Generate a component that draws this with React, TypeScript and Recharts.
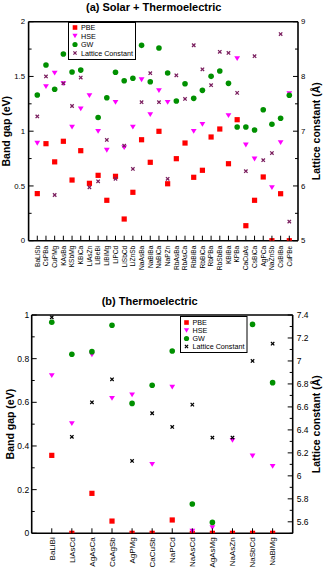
import React from 'react';
import { ScatterChart, Scatter, XAxis, YAxis, Legend } from 'recharts';

const FONT = '"Liberation Sans", Arial, Helvetica, sans-serif';

const PBE_COLOR = '#ff0000';
const HSE_COLOR = '#ff00ff';
const GW_COLOR = '#009000';
const LAT_A_COLOR = '#7a1e5e';
const LAT_B_COLOR = '#000000';

const seriesNames = ['PBE', 'HSE', 'GW', 'Lattice Constant'];

// ---------- (a) Solar + Thermoelectric ----------
const titleA = '(a) Solar + Thermoelectric';
const catsA = ['BaLiSb', 'CsPBa', 'CuPMg', 'KAsBa', 'KSbMg', 'KBiCa', 'LiAsZn', 'LiBeBi', 'LiBiMg', 'LiPCd',
  'LiSbCd', 'LiZnSb', 'NaAsBa', 'NaBiBa', 'NaBiCa', 'NaPZn', 'RbAsBa', 'RbAsCa', 'RbBiBa', 'RbBiCa',
  'RbPBa', 'RbSbBa', 'KBiBa', 'KPBa', 'CaCuAs', 'CsBiCa', 'AgPCa', 'NaZnSb', 'CsBiBa', 'CuPBe'];
const pbeA = [0.43, 0.886, 0.72, 0.908, 0.554, 0.822, 0.524, 0.597, 0.369, 0.588,
  0.198, 0.442, 0.922, 0.716, 0.999, 0.52, 0.749, 0.892, 0.579, 0.643,
  0.947, 1.02, 0.703, 1.105, 0.137, 0.369, 0.582, 0, 0.429, 0];
const hseA: (number | null)[] = [0.89, 1.407, 1.53, 1.434, 1.038, 1.203, 1.324, 0.999, 0.826, 1.264,
  0.85, 1.038, 1.47, 1.151, 1.37, 1.264, null, null, 0.999, 1.063,
  null, null, 1.142, 1.662, 0.874, 0.746, null, 0.484, 0.895, 1.343];
const gwA = [1.33, 1.605, 1.383, 1.705, 1.54, 1.558, 1.85, 1.125, 1.306, 1.538,
  1.461, 1.483, 1.784, 1.452, 1.76, 1.532, 1.276, 1.434, 1.3, 1.373,
  1.501, 1.55, 1.437, 1.038, 1.038, 1.011, 1.196, 1.063, 1.118, 1.328];
const latA = [7.27, 8.0, 5.835, 7.875, 7.46, 7.98, 5.975, 6.085, 6.84, 6.13,
  6.735, 6.31, 7.53, 8.06, 7.53, 6.13, 8.02, 7.59, 8.57, 8.13,
  7.84, 8.45, 8.43, 7.7, 6.27, 8.37, 6.47, 6.6, 8.775, 5.35];
const bandMajorA = [0, 0.5, 1, 1.5, 2];
const bandMinorA = [0.25, 0.75, 1.25, 1.75];
const latMajorA = [5, 6, 7, 8, 9];
const latMinorA = [5.5, 6.5, 7.5, 8.5];

// ---------- (b) Thermoelectric ----------
const titleB = '(b) Thermoelectric';
const catsB = ['BaLiBi', 'LiAsCd', 'AgAsCa', 'CaAgSb', 'AgPMg', 'CaCuSb', 'NaPCd', 'NaAsCd', 'AgAsMg', 'NaAsZn', 'NaSbCd', 'NaBiMg'];
const pbeB = [0.357, 0, 0.183, 0.056, 0, 0, 0.061, 0, 0, 0, 0, 0];
const hseB = [0.722, 0.502, 0.817, 0.618, 0.634, 0.316, 0.67, 0.01, 0.026, 0.426, 0.354, 0.307];
const gwB = [0.967, 0.82, 0.832, 0.953, 0.595, 0.678, 0.835, 0.134, 0.05, 0.9, 0.957, 0.69];
const latB = [7.38, 6.34, 6.64, 6.84, 6.13, 6.545, 6.426, 6.62, 6.333, 6.333, 7.0, 7.15];
const bandMajorB = [0, 0.2, 0.4, 0.6, 0.8, 1];
const bandMinorB = [0.1, 0.3, 0.5, 0.7, 0.9];
const latMajorB = [5.6, 5.8, 6, 6.2, 6.4, 6.6, 6.8, 7, 7.2, 7.4];
const latMinorB = [5.5, 5.7, 5.9, 6.1, 6.3, 6.5, 6.7, 6.9, 7.1, 7.3];

const axisLabelBand = 'Band gap (eV)';
const axisLabelLat = 'Lattice constant (Å)';

const toPts = (vals: (number | null)[]) =>
  vals.map((v, i) => (v === null ? null : { x: i + 1, y: v })).filter((p) => p !== null) as { x: number; y: number }[];

// ---------- marker shapes ----------
const square = (cx: number, cy: number, c: string, s = 5.2) => (
  <rect x={cx - s / 2} y={cy - s / 2} width={s} height={s} fill={c} />
);
const tri = (cx: number, cy: number, c: string, w = 5.8, h = 4.8) => (
  <polygon points={`${cx - w / 2},${cy - h / 2} ${cx + w / 2},${cy - h / 2} ${cx},${cy + h / 2}`} fill={c} />
);
const circ = (cx: number, cy: number, c: string, r = 2.8) => <circle cx={cx} cy={cy} r={r} fill={c} />;
const cross = (cx: number, cy: number, c: string, a = 1.7, sw = 1.25) => (
  <g stroke={c} strokeWidth={sw}>
    <line x1={cx - a} y1={cy - a} x2={cx + a} y2={cy + a} />
    <line x1={cx - a} y1={cy + a} x2={cx + a} y2={cy - a} />
  </g>
);

// ---------- ticks ----------
const isIn = (arr: number[], v: number) => arr.some((m) => Math.abs(m - v) < 1e-6);

const makeYTick = (majors: number[], side: 'left' | 'right', fontSize: number, gap: number) => (props: any) => {
  const { x, y, payload } = props;
  const v = payload.value;
  const major = isIn(majors, v);
  const len = major ? 5 : 3;
  const dir = side === 'left' ? 1 : -1;
  return (
    <g>
      <line x1={x} x2={x + dir * len} y1={y} y2={y} stroke="#000" strokeWidth={1} />
      {major && (
        <text
          x={side === 'left' ? x - gap : x + gap}
          y={y}
          dy="0.35em"
          textAnchor={side === 'left' ? 'end' : 'start'}
          fontSize={fontSize}
          fontFamily={FONT}
          fill="#000"
        >
          {String(v)}
        </text>
      )}
    </g>
  );
};

const makeCatTick = (cats: string[], fontSize: number, gap: number) => (props: any) => {
  const { x, y, payload } = props;
  const name = cats[Math.round(payload.value) - 1];
  return (
    <g>
      <line x1={x} x2={x} y1={y} y2={y - 5} stroke="#000" strokeWidth={1} />
      {name && (
        <text
          transform={`translate(${x},${y + gap}) rotate(-90)`}
          textAnchor="end"
          dy="0.35em"
          fontSize={fontSize}
          fontFamily={FONT}
          fill="#000"
        >
          {name}
        </text>
      )}
    </g>
  );
};

const yTitle = (text: string, dx: number, fontSize: number) => (props: any) => {
  const vb = props.viewBox || { x: 0, y: 0, width: 0, height: 0 };
  const cx = vb.x + dx;
  const cy = vb.y + vb.height / 2;
  return (
    <text
      x={cx}
      y={cy}
      transform={`rotate(-90, ${cx}, ${cy})`}
      textAnchor="middle"
      dy="0.35em"
      fontSize={fontSize}
      fontWeight="bold"
      fontFamily={FONT}
      fill="#000"
    >
      {text}
    </text>
  );
};

const makeLegend = (latColor: string, w: number, h: number, rows: number[], symX: number, textX: number) => () => (
  <svg width={w} height={h} style={{ display: 'block' }}>
    <rect x={0.5} y={0.5} width={w - 1} height={h - 1} fill="#fff" stroke="#000" strokeWidth={1} />
    {square(symX, rows[0], PBE_COLOR, 4.6)}
    {tri(symX, rows[1], HSE_COLOR, 5.2, 4.4)}
    {circ(symX, rows[2], GW_COLOR, 2.6)}
    {cross(symX, rows[3], latColor, 1.6, 1.2)}
    {seriesNames.map((n, i) => (
      <text key={n} x={textX} y={rows[i]} dy="0.35em" fontSize={7.2} fontFamily={FONT} fill="#000">
        {n}
      </text>
    ))}
  </svg>
);

const frameStroke = { stroke: '#000', strokeWidth: 1.6 };

interface PanelProps {
  width: number;
  height: number;
  margin: { top: number; right: number; bottom: number; left: number };
  cats: string[];
  pbe: (number | null)[];
  hse: (number | null)[];
  gw: (number | null)[];
  lat: (number | null)[];
  bandDomain: [number, number];
  latDomain: [number, number];
  bandMajor: number[];
  bandMinor: number[];
  latMajor: number[];
  latMinor: number[];
  latColor: string;
  tickFont: number;
  catFont: number;
  catGap: number;
  leftGap: number;
  rightGap: number;
  leftTitleDx: number;
  rightTitleDx: number;
  legendBox: { left: number; top: number; width: number; height: number; rows: number[]; symX: number; textX: number };
  markerScale: number;
}

function Panel(p: PanelProps) {
  const n = p.cats.length;
  const xTicks = p.cats.map((_, i) => i + 1);
  const k = p.markerScale;
  const Leg = makeLegend(p.latColor, p.legendBox.width, p.legendBox.height, p.legendBox.rows, p.legendBox.symX, p.legendBox.textX);
  return (
    <ScatterChart width={p.width} height={p.height} margin={p.margin}>
      <XAxis
        xAxisId="bottom"
        type="number"
        dataKey="x"
        domain={[0, n + 1]}
        ticks={xTicks}
        interval={0}
        allowDataOverflow
        height={1}
        tickSize={0}
        tickMargin={0}
        tickLine={false}
        axisLine={frameStroke}
        tick={makeCatTick(p.cats, p.catFont, p.catGap)}
      />
      <XAxis
        xAxisId="top"
        orientation="top"
        type="number"
        domain={[0, n + 1]}
        allowDataOverflow
        height={1}
        tick={false}
        tickLine={false}
        axisLine={frameStroke}
      />
      <YAxis
        yAxisId="left"
        type="number"
        dataKey="y"
        domain={p.bandDomain}
        ticks={[...p.bandMajor, ...p.bandMinor].sort((a, b) => a - b)}
        interval={0}
        allowDataOverflow
        width={1}
        tickSize={0}
        tickMargin={0}
        tickLine={false}
        axisLine={frameStroke}
        tick={makeYTick(p.bandMajor, 'left', p.tickFont, p.leftGap)}
        label={yTitle(axisLabelBand, p.leftTitleDx, 10.5)}
      />
      <YAxis
        yAxisId="right"
        orientation="right"
        type="number"
        dataKey="y"
        domain={p.latDomain}
        ticks={[...p.latMajor, ...p.latMinor].sort((a, b) => a - b)}
        interval={0}
        allowDataOverflow
        width={1}
        tickSize={0}
        tickMargin={0}
        tickLine={false}
        axisLine={frameStroke}
        tick={makeYTick(p.latMajor, 'right', p.tickFont, p.rightGap)}
        label={yTitle(axisLabelLat, p.rightTitleDx, 10.5)}
      />
      <Scatter
        name={seriesNames[0]}
        data={toPts(p.pbe)}
        xAxisId="bottom"
        yAxisId="left"
        isAnimationActive={false}
        shape={(s: any) => square(s.cx, s.cy, PBE_COLOR, 5.2 * k)}
      />
      <Scatter
        name={seriesNames[1]}
        data={toPts(p.hse)}
        xAxisId="bottom"
        yAxisId="left"
        isAnimationActive={false}
        shape={(s: any) => tri(s.cx, s.cy, HSE_COLOR, 5.8 * k, 4.8 * k)}
      />
      <Scatter
        name={seriesNames[2]}
        data={toPts(p.gw)}
        xAxisId="bottom"
        yAxisId="left"
        isAnimationActive={false}
        shape={(s: any) => circ(s.cx, s.cy, GW_COLOR, 2.8 * k)}
      />
      <Scatter
        name={seriesNames[3]}
        data={toPts(p.lat)}
        xAxisId="bottom"
        yAxisId="right"
        isAnimationActive={false}
        shape={(s: any) => cross(s.cx, s.cy, p.latColor, 1.7 * k, 1.25)}
      />
      <Legend
        layout="vertical"
        align="center"
        verticalAlign="middle"
        content={Leg}
        wrapperStyle={{
          left: p.legendBox.left,
          top: p.legendBox.top,
          width: p.legendBox.width,
          height: p.legendBox.height,
          lineHeight: 0,
        }}
      />
    </ScatterChart>
  );
}

const titleStyle: React.CSSProperties = {
  position: 'absolute',
  fontFamily: FONT,
  fontWeight: 'bold',
  fontSize: 11,
  lineHeight: '12px',
  whiteSpace: 'nowrap',
  color: '#000',
};

export default function App() {
  return (
    <div style={{ position: 'absolute', left: 0, top: 0, width: 324, height: 576, background: '#fff', overflow: 'hidden' }}>
      <div style={{ position: 'absolute', left: 0, top: 0 }}>
        <Panel
          width={324}
          height={290}
          margin={{ top: 20.7, right: 25, bottom: 48.3, left: 27.6 }}
          cats={catsA}
          pbe={pbeA}
          hse={hseA}
          gw={gwA}
          lat={latA}
          bandDomain={[0, 2]}
          latDomain={[5, 9]}
          bandMajor={bandMajorA}
          bandMinor={bandMinorA}
          latMajor={latMajorA}
          latMinor={latMinorA}
          latColor={LAT_A_COLOR}
          tickFont={7.8}
          catFont={6.6}
          catGap={5}
          leftGap={3.5}
          rightGap={3}
          leftTitleDx={-21.6}
          rightTitleDx={18.7}
          legendBox={{ left: 68.3, top: 21.7, width: 68, height: 38, rows: [5.5, 14, 22.5, 31], symX: 7, textX: 13 }}
          markerScale={1}
        />
      </div>
      <div style={{ position: 'absolute', left: 0, top: 290 }}>
        <Panel
          width={324}
          height={286}
          margin={{ top: 24, right: 30.3, bottom: 41.7, left: 30.7 }}
          cats={catsB}
          pbe={pbeB}
          hse={hseB}
          gw={gwB}
          lat={latB}
          bandDomain={[0, 1]}
          latDomain={[5.5, 7.4]}
          bandMajor={bandMajorB}
          bandMinor={bandMinorB}
          latMajor={latMajorB}
          latMinor={latMinorB}
          latColor={LAT_B_COLOR}
          tickFont={8.5}
          catFont={8}
          catGap={4}
          leftGap={2.5}
          rightGap={4}
          leftTitleDx={-20.7}
          rightTitleDx={24}
          legendBox={{ left: 180, top: 26, width: 67.5, height: 37, rows: [6.5, 14.5, 22.5, 30.5], symX: 6.5, textX: 12.5 }}
          markerScale={1}
        />
      </div>
      <div style={{ ...titleStyle, left: 86, top: 0.5 }}>{titleA}</div>
      <div style={{ ...titleStyle, left: 101.7, top: 294.7 }}>{titleB}</div>
    </div>
  );
}
